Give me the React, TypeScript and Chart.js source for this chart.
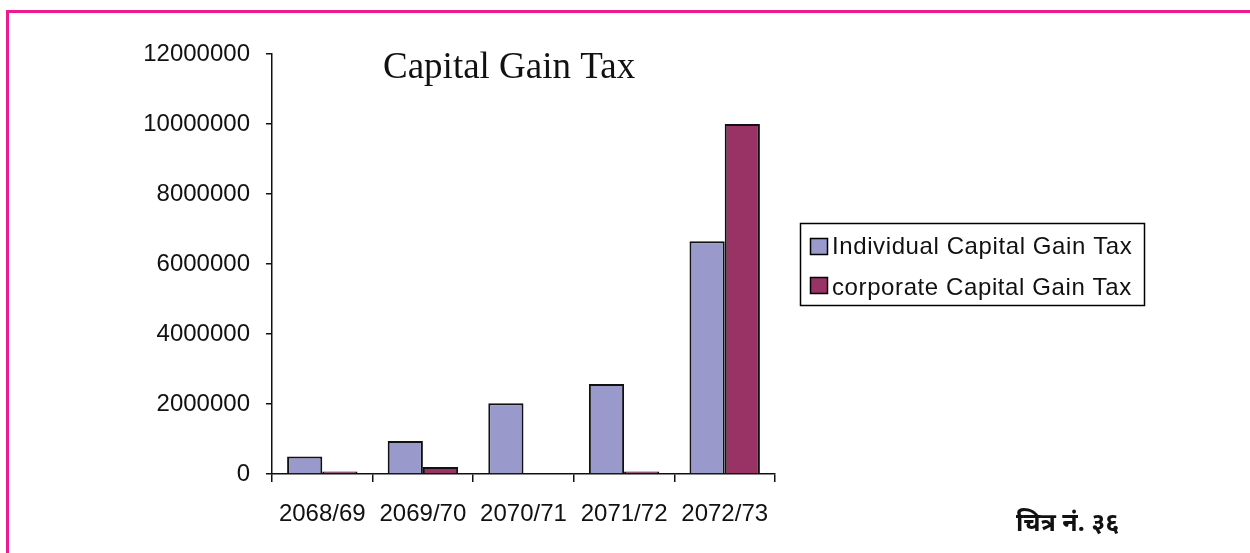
import React, { useEffect, useRef } from "react";
import { Chart, registerables } from "chart.js";

Chart.register(...registerables);

const categories = ["2068/69", "2069/70", "2070/71", "2071/72", "2072/73"];
const individualValues = [500000, 940000, 2020000, 2570000, 6650000];
const corporateValues = [70000, 200000, 0, 70000, 10000000];
const seriesLabels = ["Individual Capital Gain Tax", "corporate Capital Gain Tax"];
const seriesColors = ["#9999CC", "#993366"];
const yTicks = [0, 2000000, 4000000, 6000000, 8000000, 10000000, 12000000];
const titleText = "Capital Gain Tax";
const captionText = "चित्र नं. ३६";

const decorPlugin = {
  id: "decor",
  beforeDraw(chart: any) {
    const ctx = chart.ctx;
    ctx.save();
    ctx.fillStyle = "#ffffff";
    ctx.fillRect(0, 0, chart.width, chart.height);
    ctx.fillStyle = "#EC1A8E";
    ctx.fillRect(6, 10, 3, chart.height - 10);
    ctx.fillRect(6, 10, chart.width - 6, 3);
    ctx.restore();
  },
  afterDraw(chart: any) {
    const ctx = chart.ctx;
    ctx.save();
    // title
    ctx.fillStyle = "#111";
    ctx.font = '37px "Liberation Serif", "Times New Roman", serif';
    ctx.textBaseline = "alphabetic";
    ctx.textAlign = "left";
    ctx.fillText(titleText, 383, 78);

    // legend
    ctx.strokeStyle = "#000";
    ctx.lineWidth = 1.5;
    ctx.strokeRect(800.5, 223.5, 344, 82);
    const ds = chart.data.datasets;
    const rowsY = [238, 277];
    const baselines = [254, 295];
    ctx.font = '24px "Liberation Sans", Arial, sans-serif';
    (ctx as any).letterSpacing = "0.6px";
    for (let i = 0; i < ds.length; i++) {
      ctx.fillStyle = ds[i].backgroundColor;
      ctx.fillRect(810, rowsY[i], 17, 16);
      ctx.lineWidth = 1.5;
      ctx.strokeRect(810.5, rowsY[i] + 0.5, 17, 16);
      ctx.fillStyle = "#111";
      ctx.fillText(ds[i].label, 832, baselines[i]);
    }
    (ctx as any).letterSpacing = "0px";

    // caption
    ctx.font = 'bold 25px "Noto Sans", "Lohit Devanagari", "FreeSans", sans-serif';
    ctx.fillStyle = "#111";
    ctx.fillText(captionText, 1016, 531);
    ctx.restore();
  },
};

export default function App() {
  const ref = useRef<HTMLCanvasElement | null>(null);

  useEffect(() => {
    if (!ref.current) return;
    const chart = new Chart(ref.current, {
      type: "bar",
      data: {
        labels: categories,
        datasets: [
          {
            label: seriesLabels[0],
            data: individualValues,
            backgroundColor: seriesColors[0],
            borderColor: "#111",
            borderWidth: 2,
            categoryPercentage: 0.7,
            barPercentage: 1.0,
          },
          {
            label: seriesLabels[1],
            data: corporateValues,
            backgroundColor: seriesColors[1],
            borderColor: "#111",
            borderWidth: 2,
            categoryPercentage: 0.7,
            barPercentage: 1.0,
          },
        ],
      },
      options: {
        responsive: false,
        animation: false,
        devicePixelRatio: 1,
        layout: { padding: { left: 0, top: 54, right: 475, bottom: 0 } },
        plugins: {
          legend: { display: false },
          title: { display: false },
          tooltip: { enabled: false },
        },
        scales: {
          x: {
            grid: {
              display: true,
              drawOnChartArea: false,
              drawTicks: true,
              tickLength: 8,
              color: "#111",
              lineWidth: 1.5,
              offset: true,
            },
            border: { display: true, color: "#111", width: 1.5 },
            ticks: {
              color: "#111",
              padding: 18,
              maxRotation: 0,
              font: { family: '"Liberation Sans", Arial, sans-serif', size: 24 },
            },
            afterFit(scale: any) {
              scale.height = 79;
            },
          },
          y: {
            min: 0,
            max: 12000000,
            afterBuildTicks(scale: any) {
              scale.ticks = yTicks.map((v) => ({ value: v }));
            },
            grid: {
              display: true,
              drawOnChartArea: false,
              drawTicks: true,
              tickLength: 6,
              color: "#111",
              lineWidth: 1.5,
            },
            border: { display: true, color: "#111", width: 1.5 },
            ticks: {
              color: "#111",
              padding: 16,
              font: { family: '"Liberation Sans", Arial, sans-serif', size: 24 },
              callback: (v: any) => String(v),
            },
            afterFit(scale: any) {
              scale.width = 272;
            },
          },
        },
      },
      plugins: [decorPlugin],
    });
    return () => chart.destroy();
  }, []);

  return (
    <div style={{ position: "absolute", left: 0, top: 0, width: 1250, height: 553, background: "#fff" }}>
      <canvas ref={ref} width={1250} height={553} style={{ display: "block", width: 1250, height: 553 }} />
    </div>
  );
}
